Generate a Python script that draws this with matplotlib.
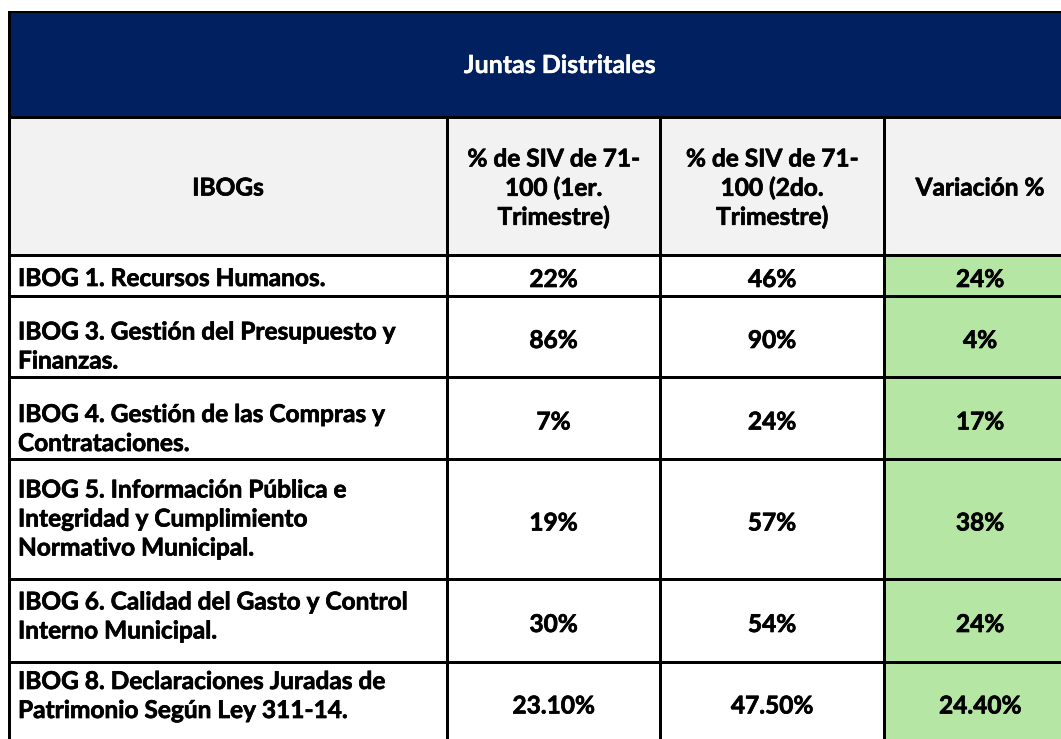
import matplotlib
matplotlib.use("Agg")
import matplotlib.pyplot as plt
from matplotlib.patches import Rectangle
import matplotlib.patheffects as pe

# ---------------- data ----------------
title = "Juntas Distritales"
header_labels = [
    ["IBOGs"],
    ["% de SIV de 71-", "100 (1er.", "Trimestre)"],
    ["% de SIV de 71-", "100 (2do.", "Trimestre)"],
    ["Variación %"],
]
ibog_labels = [
    ["IBOG 1. Recursos Humanos."],
    ["IBOG 3. Gestión del Presupuesto y", "Finanzas."],
    ["IBOG 4. Gestión de las Compras y", "Contrataciones."],
    ["IBOG 5. Información Pública e", "Integridad y Cumplimiento", "Normativo Municipal."],
    ["IBOG 6. Calidad del Gasto y Control", "Interno Municipal."],
    ["IBOG 8. Declaraciones Juradas de", "Patrimonio Según Ley 311-14."],
]
q1_values = [22, 86, 7, 19, 30, 23.10]
q2_values = [46, 90, 24, 57, 54, 47.50]
variation = [24, 4, 17, 38, 24, 24.40]

# ---------------- layout ----------------
W, H = 1061, 739
col_edges = [9, 447, 660, 884, 1076]
row_edges = [12, 117, 255, 296, 377, 459, 579, 662, 742]
label_dy = [1, 8, 9, -2, -6, -8]
line_gap = 29

NAVY = "#002060"
GRAY = "#F2F2F2"
GREEN = "#B5E6A3"
FONT = "Lato"
BOLDER = [pe.withStroke(linewidth=0.5, foreground="black")]
BOLDER_W = [pe.withStroke(linewidth=0.3, foreground="white")]


def fmt(v):
    if float(v).is_integer():
        return f"{int(v)}%"
    return f"{v:.2f}%"


fig = plt.figure(figsize=(W / 100, H / 100), dpi=100)
ax = fig.add_axes([0, 0, 1, 1])
ax.set_xlim(0, W)
ax.set_ylim(H, 0)
ax.axis("off")

x0, x1 = col_edges[0], col_edges[-1]
# backgrounds
ax.add_patch(Rectangle((x0, row_edges[0]), x1 - x0, row_edges[1] - row_edges[0],
                       facecolor=NAVY, edgecolor="none", zorder=1))
ax.add_patch(Rectangle((x0, row_edges[1]), x1 - x0, row_edges[2] - row_edges[1],
                       facecolor=GRAY, edgecolor="none", zorder=1))
ax.add_patch(Rectangle((col_edges[3], row_edges[2]), col_edges[4] - col_edges[3],
                       row_edges[-1] - row_edges[2],
                       facecolor=GREEN, edgecolor="none", zorder=1))

lw = 3 * 72 / 100
# horizontal lines
for i, y in enumerate(row_edges):
    ax.plot([x0, x1], [y, y], color="black", lw=(2 * 72 / 100 if i == 0 else lw),
            solid_capstyle="projecting", zorder=3)
# left border
ax.plot([x0, x0], [row_edges[0], row_edges[-1]], color="black", lw=lw, zorder=3)
# inner vertical lines
for x in col_edges[1:-1]:
    ax.plot([x, x], [row_edges[1], row_edges[-1]], color="black", lw=lw, zorder=3)

# title
ax.text(560, (row_edges[0] + row_edges[1]) / 2 + 1, title, color="white",
        fontsize=18, fontweight="bold", family=FONT, ha="center", va="center",
        path_effects=BOLDER_W, zorder=4)


def multiline(xc, yc, lines, ha="center", size=17.6):
    n = len(lines)
    for k, s in enumerate(lines):
        y = yc + (k - (n - 1) / 2) * line_gap
        ax.text(xc, y, s, ha=ha, va="center_baseline", fontsize=size,
                fontweight="bold", family=FONT, color="black",
                path_effects=BOLDER, zorder=4)


# header
hy = (row_edges[1] + row_edges[2]) / 2
for j, lines in enumerate(header_labels):
    xc = (col_edges[j] + col_edges[j + 1]) / 2
    if j == 3:
        xc = 980
    multiline(xc, hy, lines)

# body
for i in range(len(ibog_labels)):
    ya, yb = row_edges[i + 2], row_edges[i + 3]
    yc = (ya + yb) / 2
    multiline(col_edges[0] + 9, yc + label_dy[i], ibog_labels[i], ha="left")
    for j, vals in enumerate([q1_values, q2_values, variation]):
        xc = (col_edges[j + 1] + col_edges[j + 2]) / 2
        multiline(xc, yc + 2, [fmt(vals[i])])

fig.savefig("out.png", dpi=100)
